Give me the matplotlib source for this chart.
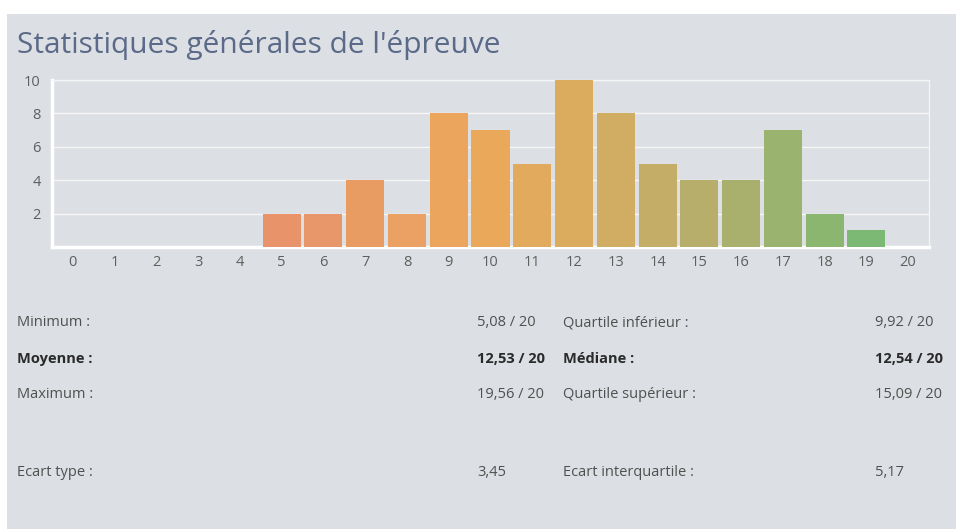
import matplotlib
matplotlib.use("Agg")
import matplotlib.pyplot as plt
from matplotlib.patches import Rectangle

# note distribution (number of students per mark)
notes = list(range(21))
effectifs = [0, 0, 0, 0, 0, 2, 2, 4, 2, 8, 7, 5, 10, 8, 5, 4, 4, 7, 2, 1, 0]
couleurs = ['#e8915f', '#e8915f', '#e8915f', '#e8915f', '#e8915f',
            '#e8936a', '#e8976a', '#e99c62', '#eaa163', '#eba55c',
            '#e9a85a', '#e2aa5c', '#dcac5e', '#d0ad63', '#c4ad67',
            '#b6ae6a', '#a9af6c', '#9ab36e', '#8ab670', '#7cb974', '#7cb974']

yticks = [2, 4, 6, 8, 10]

titre = "Statistiques générales de l'épreuve"

# statistics block
lignes_gauche = ['Minimum :', 'Moyenne :', 'Maximum :', 'Ecart type :']
valeurs_gauche = ['5,08 / 20', '12,53 / 20', '19,56 / 20', '3,45']
lignes_droite = ['Quartile inférieur :', 'Médiane :', 'Quartile supérieur :', 'Ecart interquartile :']
valeurs_droite = ['9,92 / 20', '12,54 / 20', '15,09 / 20', '5,17']
gras = [False, True, False, False]
rows_y = [323, 359, 395, 472]   # pixel rows

W, H = 956, 529
plt.rcParams['font.family'] = ['Open Sans', 'DejaVu Sans']
fig = plt.figure(figsize=(W / 100, H / 100), dpi=100)
fig.patch.set_facecolor('white')

fond = '#dcdfe3'
fig.patches.append(Rectangle((7 / W, 0), 1 - 7 / W, (H - 14) / H,
                             transform=fig.transFigure, facecolor=fond,
                             edgecolor='none', zorder=-5))

fig.text(17 / W, 1 - 45 / H, titre, fontsize=21.5, color='#5b6a88',
         ha='left', va='center')

ax = fig.add_axes([52 / W, 1 - 247 / H, 877 / W, 167 / H])
ax.set_zorder(2)
ax.set_facecolor(fond)
ax.bar(notes, effectifs, width=0.91, color=couleurs, edgecolor='none', zorder=3)
ax.set_xlim(-0.5, 20.5)
ax.set_ylim(0, 10)
ax.set_xticks(notes)
ax.set_yticks(yticks)
ax.tick_params(length=0, labelsize=10.5, labelcolor='#5f5f5f')
ax.tick_params(axis='y', pad=8)
ax.tick_params(axis='x', pad=6)
ax.grid(axis='y', color='white', linewidth=1.0, alpha=0.75, zorder=1)
for side in ['top', 'right']:
    ax.spines[side].set_color('#f4f5f7')
    ax.spines[side].set_linewidth(1.0)
for side in ['left', 'bottom']:
    ax.spines[side].set_color('white')
    ax.spines[side].set_linewidth(2.5)

for i in range(len(lignes_gauche)):
    y = 1 - rows_y[i] / H
    poids = 'bold' if gras[i] else 'normal'
    col = '#2a2a2a' if gras[i] else '#505050'
    fig.text(17 / W, y, lignes_gauche[i], fontsize=10.5, color=col, weight=poids, va='center')
    fig.text(477 / W, y, valeurs_gauche[i], fontsize=10.5, color=col, weight=poids, va='center')
    fig.text(563 / W, y, lignes_droite[i], fontsize=10.5, color=col, weight=poids, va='center')
    fig.text(875 / W, y, valeurs_droite[i], fontsize=10.5, color=col, weight=poids, va='center')

fig.savefig('out.png', dpi=100, facecolor=fig.get_facecolor())
